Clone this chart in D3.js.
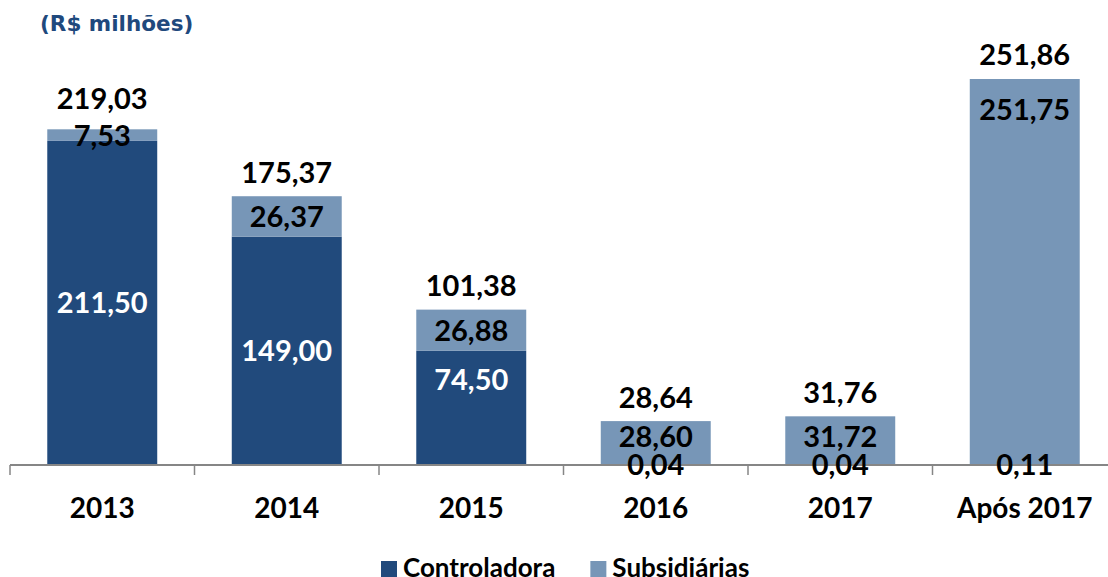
<!DOCTYPE html>
<html>
<head>
<meta charset="utf-8">
<script src="https://cdn.jsdelivr.net/npm/d3@7"></script>
<style>
  html, body { margin: 0; padding: 0; background: #fff; }
  svg { display: block; }
  .lbl { font-family: Lato, "Open Sans", sans-serif; font-weight: 700; }
</style>
</head>
<body>
<svg id="chart" width="1108" height="577"></svg>
<script>
// Data
const categories = ["2013", "2014", "2015", "2016", "2017", "Após 2017"];
const controladora = [211.50, 149.00, 74.50, 0.04, 0.04, 0.11];
const subsidiarias = [7.53, 26.37, 26.88, 28.60, 31.72, 251.75];
const totals = [219.03, 175.37, 101.38, 28.64, 31.76, 251.86];
const seriesNames = ["Controladora", "Subsidiárias"];

// Style
const colors = { controladora: "#214a7c", subsidiarias: "#7796b7", axis: "#868686" };
const baseY = 465;
const pxPerUnit = 1.5326;
const fontSize = 29;

// label nudge for the 2015 Controladora label (moved up in the original)
const ctrlNudge = { "2015": -28 };

const fmt = (v) => v.toFixed(2).replace(".", ",");

const svg = d3.select("#chart");

const x = d3.scaleBand()
  .domain(categories)
  .range([10, 10 + 184.5 * categories.length])
  .paddingInner(0.404)
  .paddingOuter(0.202);

const yMax = 260;
const y = d3.scaleLinear().domain([0, yMax]).range([baseY, baseY - yMax * pxPerUnit]);

const rows = categories.map((c, i) => ({
  cat: c,
  ctrl: controladora[i],
  subs: subsidiarias[i],
  total: totals[i],
  last: i === categories.length - 1,
}));

// Bars
const g = svg.append("g");

g.selectAll("rect.ctrl")
  .data(rows)
  .join("rect")
  .attr("class", "ctrl")
  .attr("x", (d) => x(d.cat))
  .attr("width", x.bandwidth())
  .attr("y", (d) => y(d.ctrl))
  .attr("height", (d) => y(0) - y(d.ctrl))
  .attr("fill", colors.controladora);

g.selectAll("rect.subs")
  .data(rows)
  .join("rect")
  .attr("class", "subs")
  .attr("x", (d) => x(d.cat))
  .attr("width", x.bandwidth())
  .attr("y", (d) => y(d.ctrl + d.subs))
  .attr("height", (d) => y(d.ctrl) - y(d.ctrl + d.subs))
  .attr("fill", colors.subsidiarias);

// Axis
const axisG = svg.append("g");
const step = x.step();
axisG.append("line")
  .attr("x1", 10).attr("x2", 1108)
  .attr("y1", baseY).attr("y2", baseY)
  .attr("stroke", colors.axis).attr("stroke-width", 2);

const tickXs = d3.range(categories.length + 1).map((i) => 10 + i * step);
axisG.selectAll("line.tick")
  .data(tickXs)
  .join("line")
  .attr("class", "tick")
  .attr("x1", (d) => d).attr("x2", (d) => d)
  .attr("y1", baseY).attr("y2", baseY + 10)
  .attr("stroke", colors.axis).attr("stroke-width", 1.5);

axisG.selectAll("text.cat")
  .data(categories)
  .join("text")
  .attr("class", "cat lbl")
  .attr("x", (d) => x(d) + x.bandwidth() / 2)
  .attr("y", 518)
  .attr("text-anchor", "middle")
  .attr("font-size", 28)
  .attr("fill", "#000")
  .text((d) => d);

// Label positions
rows.forEach((d) => {
  const cx = x(d.cat) + x.bandwidth() / 2;
  const ctrlH = y(0) - y(d.ctrl);
  d.cx = cx;
  d.ctrlY = (y(0) + y(d.ctrl)) / 2 + (ctrlNudge[d.cat] || 0);
  d.ctrlWhite = ctrlH > 30;
  const top = y(d.ctrl + d.subs);
  if (d.last) {
    d.subsY = top + 31;
  } else {
    let sy = (y(d.ctrl) + top) / 2;
    if (!d.ctrlWhite) sy = Math.min(sy, d.ctrlY - 28);
    d.subsY = sy;
  }
  d.totalY = Math.min(top - 24, d.subsY - 37);
});

const labels = svg.append("g");

labels.selectAll("text.ctrl-val")
  .data(rows)
  .join("text")
  .attr("class", "ctrl-val lbl")
  .attr("x", (d) => d.cx)
  .attr("y", (d) => d.ctrlY)
  .attr("dy", "0.36em")
  .attr("text-anchor", "middle")
  .attr("font-size", fontSize)
  .attr("fill", (d) => (d.ctrlWhite ? "#fff" : "#000"))
  .text((d) => fmt(d.ctrl));

labels.selectAll("text.subs-val")
  .data(rows)
  .join("text")
  .attr("class", "subs-val lbl")
  .attr("x", (d) => d.cx)
  .attr("y", (d) => d.subsY)
  .attr("dy", "0.36em")
  .attr("text-anchor", "middle")
  .attr("font-size", fontSize)
  .attr("fill", "#000")
  .text((d) => fmt(d.subs));

labels.selectAll("text.total-val")
  .data(rows)
  .join("text")
  .attr("class", "total-val lbl")
  .attr("x", (d) => d.cx)
  .attr("y", (d) => d.totalY)
  .attr("dy", "0.36em")
  .attr("text-anchor", "middle")
  .attr("font-size", fontSize)
  .attr("fill", "#000")
  .text((d) => fmt(d.total));

// Unit title
svg.append("text")
  .attr("x", 40)
  .attr("y", 31)
  .attr("font-family", "'DejaVu Sans', Verdana, sans-serif")
  .attr("font-weight", 700)
  .attr("font-size", 21.5)
  .attr("fill", "#1f497d")
  .text("(R$ milhões)");

// Legend
const legend = svg.append("g");
const legendColors = [colors.controladora, colors.subsidiarias];
let lx = 381;
seriesNames.forEach((name, i) => {
  legend.append("rect")
    .attr("x", lx).attr("y", 561)
    .attr("width", 16).attr("height", 16)
    .attr("fill", legendColors[i]);
  const t = legend.append("text")
    .attr("class", "lbl")
    .attr("x", lx + 22)
    .attr("y", 577)
    .attr("font-size", 26)
    .attr("fill", "#000")
    .text(name);
  lx += 22 + t.node().getComputedTextLength() + 35;
});
</script>
</body>
</html>
